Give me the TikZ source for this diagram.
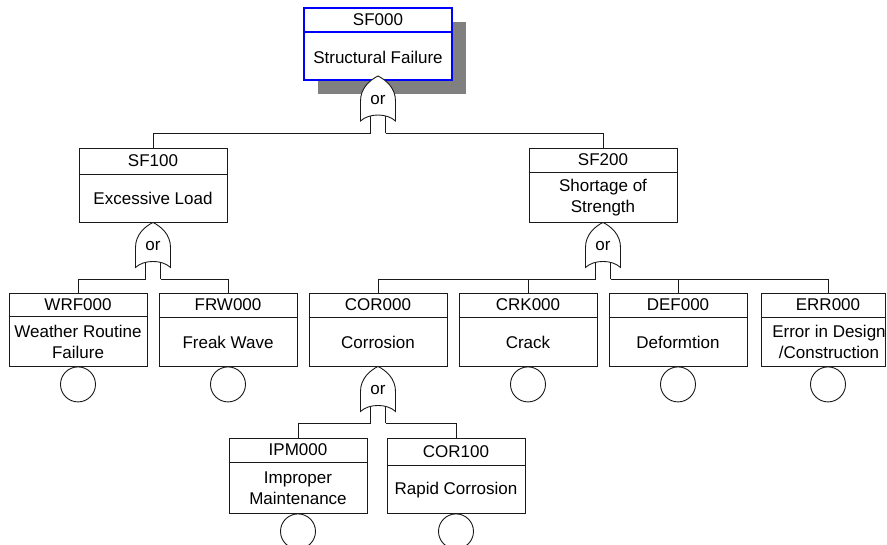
\documentclass[tikz,border=0pt]{standalone}
\usepackage{fontspec}
\setmainfont{Liberation Sans}
\usetikzlibrary{positioning,calc,shadows}
\definecolor{FtBlue}{HTML}{0000FF}
\definecolor{FtShadow}{HTML}{808080}
\definecolor{FtLine}{HTML}{1A1A1A}
\newcommand{\ftfont}{\fontsize{17pt}{21pt}\selectfont}

\tikzset{
  orgate/.pic={
    \draw[ftline] (-7.5,-34) -- (-7.5,-57) coordinate (-sl);
    \draw[ftline] (7.5,-34) -- (7.5,-57) coordinate (-sr);
    \draw[ftline,fill=white] (0,0) .. controls (-8,-4) and (-17.5,-12) .. (-17.5,-25)
      -- (-17.5,-45) .. controls (-9,-37) and (9,-37) .. (17.5,-45)
      -- (17.5,-25) .. controls (17.5,-12) and (8,-4) .. (0,0) -- cycle;
    \node[gatetxt] (-lbl) at (0,-24) {or};
  }
}

\begin{document}
\begin{tikzpicture}[x=1pt,y=1pt,
    ftline/.style={draw=FtLine,line width=0.9pt},
    evtbox/.style={ftline,fill=white,minimum width=138pt,minimum height=73pt,inner sep=0pt},
    idtxt/.style={font=\ftfont,inner sep=0pt},
    desctxt/.style={font=\ftfont,align=center,inner sep=0pt},
    gatetxt/.style={font=\ftfont,inner sep=0pt},
    basic/.style={ftline,circle,minimum size=35pt,inner sep=0pt}
  ]
  \path[fill=white] (0,0) rectangle (887,-544);
  \useasboundingbox (0,0) rectangle (887,-544);

  % top event
  \node[evtbox,draw=FtBlue,line width=2pt,minimum width=148pt,minimum height=72pt,
        drop shadow={shadow xshift=14pt,shadow yshift=-14pt,fill=FtShadow,opacity=1}] (sf000) at (378,-44) {};
  \draw[draw=FtBlue,line width=2pt] ([yshift=-25pt]sf000.north west) -- ([yshift=-25pt]sf000.north east);
  \node[idtxt] (sf000id) at ([yshift=-13pt]sf000.north) {SF000};
  \node[desctxt] (sf000txt) at ([yshift=24pt]sf000.south) {Structural Failure};

  % second level
  \node[evtbox,minimum width=148pt,minimum height=74pt] (sf100) at (153,-185) {};
  \draw[ftline] ([yshift=-27pt]sf100.north west) -- ([yshift=-27pt]sf100.north east);
  \node[idtxt] (sf100id) at ([yshift=-13.5pt]sf100.north) {SF100};
  \node[desctxt] (sf100txt) at ([yshift=24pt]sf100.south) {Excessive Load};

  \node[evtbox,minimum width=148pt,minimum height=74pt] (sf200) at (603,-185) {};
  \draw[ftline] ([yshift=-25pt]sf200.north west) -- ([yshift=-25pt]sf200.north east);
  \node[idtxt] (sf200id) at ([yshift=-12.5pt]sf200.north) {SF200};
  \node[desctxt] (sf200txt) at ([yshift=24.5pt]sf200.south) {Shortage of\\Strength};

  % third level
  \node[evtbox] (wrf000) at (78,-329.5) {};
  \draw[ftline] ([yshift=-24pt]wrf000.north west) -- ([yshift=-24pt]wrf000.north east);
  \node[idtxt] (wrf000id) at ([yshift=-12pt]wrf000.north) {WRF000};
  \node[desctxt] (wrf000txt) at ([yshift=24.5pt]wrf000.south) {Weather Routine\\Failure};
  \node[basic,below=0pt of wrf000] (wrf000e) {};

  \node[evtbox] (frw000) at (228,-329.5) {};
  \draw[ftline] ([yshift=-25pt]frw000.north west) -- ([yshift=-25pt]frw000.north east);
  \node[idtxt] (frw000id) at ([yshift=-12.5pt]frw000.north) {FRW000};
  \node[desctxt] (frw000txt) at ([yshift=24pt]frw000.south) {Freak Wave};
  \node[basic,below=0pt of frw000] (frw000e) {};

  \node[evtbox] (cor000) at (378,-329.5) {};
  \draw[ftline] ([yshift=-25pt]cor000.north west) -- ([yshift=-25pt]cor000.north east);
  \node[idtxt] (cor000id) at ([yshift=-12.5pt]cor000.north) {COR000};
  \node[desctxt] (cor000txt) at ([yshift=24pt]cor000.south) {Corrosion};

  \node[evtbox] (crk000) at (528,-329.5) {};
  \draw[ftline] ([yshift=-25pt]crk000.north west) -- ([yshift=-25pt]crk000.north east);
  \node[idtxt] (crk000id) at ([yshift=-12.5pt]crk000.north) {CRK000};
  \node[desctxt] (crk000txt) at ([yshift=24pt]crk000.south) {Crack};
  \node[basic,below=0pt of crk000] (crk000e) {};

  \node[evtbox] (def000) at (678,-329.5) {};
  \draw[ftline] ([yshift=-25pt]def000.north west) -- ([yshift=-25pt]def000.north east);
  \node[idtxt] (def000id) at ([yshift=-12.5pt]def000.north) {DEF000};
  \node[desctxt] (def000txt) at ([yshift=24pt]def000.south) {Deformtion};
  \node[basic,below=0pt of def000] (def000e) {};

  \node[evtbox,minimum width=124pt] (err000) at (823,-329.5) {};
  \draw[ftline] ([yshift=-25pt]err000.north west) -- ([yshift=-25pt]err000.north east);
  \node[idtxt] (err000id) at ([xshift=5pt,yshift=-12.5pt]err000.north) {ERR000};
  \node[desctxt] (err000txt) at ([xshift=6pt,yshift=24.5pt]err000.south) {Error in Design\\/Construction};
  \node[basic,below=0pt of err000.south,xshift=5pt] (err000e) {};

  % fourth level
  \node[evtbox,minimum height=75pt] (ipm000) at (298,-475.5) {};
  \draw[ftline] ([yshift=-25pt]ipm000.north west) -- ([yshift=-25pt]ipm000.north east);
  \node[idtxt] (ipm000id) at ([yshift=-12.5pt]ipm000.north) {IPM000};
  \node[desctxt] (ipm000txt) at ([yshift=25pt]ipm000.south) {Improper\\Maintenance};
  \node[basic,below=0pt of ipm000] (ipm000e) {};

  \node[evtbox,minimum height=75pt] (cor100) at (456,-475.5) {};
  \draw[ftline] ([yshift=-28pt]cor100.north west) -- ([yshift=-28pt]cor100.north east);
  \node[idtxt] (cor100id) at ([yshift=-14pt]cor100.north) {COR100};
  \node[desctxt] (cor100txt) at ([yshift=23.5pt]cor100.south) {Rapid Corrosion};
  \node[basic,below=0pt of cor100] (cor100e) {};

  % gates
  \pic (gsf000) at ([yshift=5pt]sf000.south) {orgate};
  \pic (gsf100) at (sf100.south) {orgate};
  \pic (gsf200) at (sf200.south) {orgate};
  \pic (gcor000) at (cor000.south) {orgate};

  % connectors
  \draw[ftline] (gsf000-sl) -| (sf100.north);
  \draw[ftline] (gsf000-sr) -| (sf200.north);
  \draw[ftline] (gsf100-sl) -| (wrf000.north);
  \draw[ftline] (gsf100-sr) -| (frw000.north);
  \draw[ftline] (gsf200-sl) -| (cor000.north);
  \draw[ftline] (gsf200-sl) -| (crk000.north);
  \draw[ftline] (gsf200-sr) -| (def000.north);
  \draw[ftline] (gsf200-sr) -| ([xshift=5pt]err000.north);
  \draw[ftline] (gcor000-sl) -| (ipm000.north);
  \draw[ftline] (gcor000-sr) -| (cor100.north);
\end{tikzpicture}
\end{document}
